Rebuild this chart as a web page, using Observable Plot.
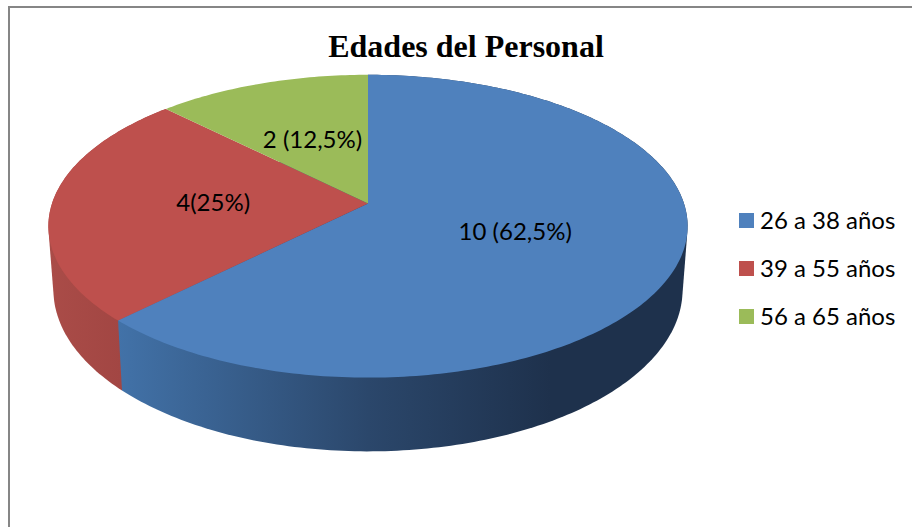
<!DOCTYPE html>
<html>
<head>
<meta charset="utf-8">
<script src="https://cdn.jsdelivr.net/npm/d3@7"></script>
<script src="https://cdn.jsdelivr.net/npm/@observablehq/plot@0.6"></script>
<style>
html,body{margin:0;padding:0;background:#fff;overflow:hidden}
#wrap{position:relative;width:912px;height:527px}
#frame{position:absolute;left:8px;top:6px;width:920px;height:540px;border:2px solid #868686;box-sizing:border-box}
#title{position:absolute;left:166px;width:600px;top:26px;text-align:center;font:bold 32px "Liberation Serif",serif;color:#000;line-height:40px}
.leg{position:absolute;left:739px;height:16px;width:172px;font:24px Lato,sans-serif;color:#000}
.leg i{position:absolute;left:0;top:0;width:15px;height:15px}
.leg span{position:absolute;left:21px;top:-8px;line-height:30px;white-space:nowrap}
svg{position:absolute;left:0;top:0}
</style>
</head>
<body>
<div id="wrap"><div id="frame"></div><div id="plot"></div><div id="title">Edades del Personal</div></div>
<script>
const categories = ["26 a 38 años", "39 a 55 años", "56 a 65 años"];
const values = [10, 4, 2];
const sliceLabels = ["10 (62,5%)", "4(25%)", "2 (12,5%)"];
const colors = ["#4F81BD", "#BE504D", "#9BBB59"];
const legendRows = [213, 261, 309];

// Perspective view of the pie: top disc and bottom disc
const cx = 367.5, k = 0.15;
const topDisc = {A: 316, B: 148, y0: 203};
const botDisc = {A: 311, B: 158, y0: 265};
const project = (d, theta, r = 1) => {
  const u = r * Math.sin(theta), v = -r * Math.cos(theta), w = 1 - k * v;
  return {x: cx + d.A * u / w, y: d.y0 + d.B * v / w};
};
const total = d3.sum(values);
let acc = 0;
const slices = values.map((v, i) => {
  const a0 = acc / total * 2 * Math.PI; acc += v;
  return {i, a0, a1: acc / total * 2 * Math.PI};
});
const arc = (d, s) => {
  const n = Math.ceil((s.a1 - s.a0) * 60);
  return d3.range(n + 1).map(j => project(d, s.a0 + (s.a1 - s.a0) * j / n));
};
const tops = slices.map(s => [{x: cx, y: topDisc.y0}, ...arc(topDisc, s)]);
// The wall of a slice is the hull of its top and bottom rims; the top discs hide the far part.
const sides = slices.map(s => d3.polygonHull([...arc(topDisc, s), ...arc(botDisc, s)].map(p => [p.x, p.y])).map(([x, y]) => ({x, y})));
const labels = slices.map(s => ({...project(topDisc, (s.a0 + s.a1) / 2, 0.49), text: sliceLabels[s.i]}));

const poly = (pts, fill) => Plot.line(pts, {x: "x", y: "y", fill, stroke: "none", curve: "linear-closed"});

const chart = Plot.plot({
  width: 912, height: 527, margin: 0,
  x: {domain: [0, 912], range: [0, 912], axis: null},
  y: {domain: [0, 527], range: [0, 527], axis: null},
  style: {background: "transparent"},
  marks: [
    () => {
      const ns = "http://www.w3.org/2000/svg";
      const defs = document.createElementNS(ns, "defs");
      const grad = (id, stops) => {
        const g = document.createElementNS(ns, "linearGradient");
        g.setAttribute("id", id);
        stops.forEach(([o, c]) => {
          const s = document.createElementNS(ns, "stop");
          s.setAttribute("offset", o); s.setAttribute("stop-color", c);
          g.appendChild(s);
        });
        defs.appendChild(g);
      };
      grad("sideBlue", [[0, "#4272A8"], [0.44, "#2B476B"], [0.76, "#1E314C"], [1, "#1E314C"]]);
      grad("sideRed", [[0, "#AA4C48"], [0.6, "#A24643"], [1, "#98403C"]]);
      return defs;
    },
    poly(sides[1], "url(#sideRed)"),
    poly(sides[0], "url(#sideBlue)"),
    poly(tops[0], colors[0]),
    poly(tops[1], colors[1]),
    poly(tops[2], colors[2]),
    Plot.text(labels, {x: "x", y: "y", text: "text", fill: "#000", fontSize: 24, fontFamily: "Lato, sans-serif"})
  ]
});
document.getElementById("plot").appendChild(chart);

const wrap = document.getElementById("wrap");
categories.forEach((c, i) => {
  const row = document.createElement("div");
  row.className = "leg";
  row.style.top = legendRows[i] + "px";
  const sw = document.createElement("i"); sw.style.background = colors[i];
  const tx = document.createElement("span"); tx.textContent = c;
  row.append(sw, tx);
  wrap.appendChild(row);
});
</script>
</body>
</html>
